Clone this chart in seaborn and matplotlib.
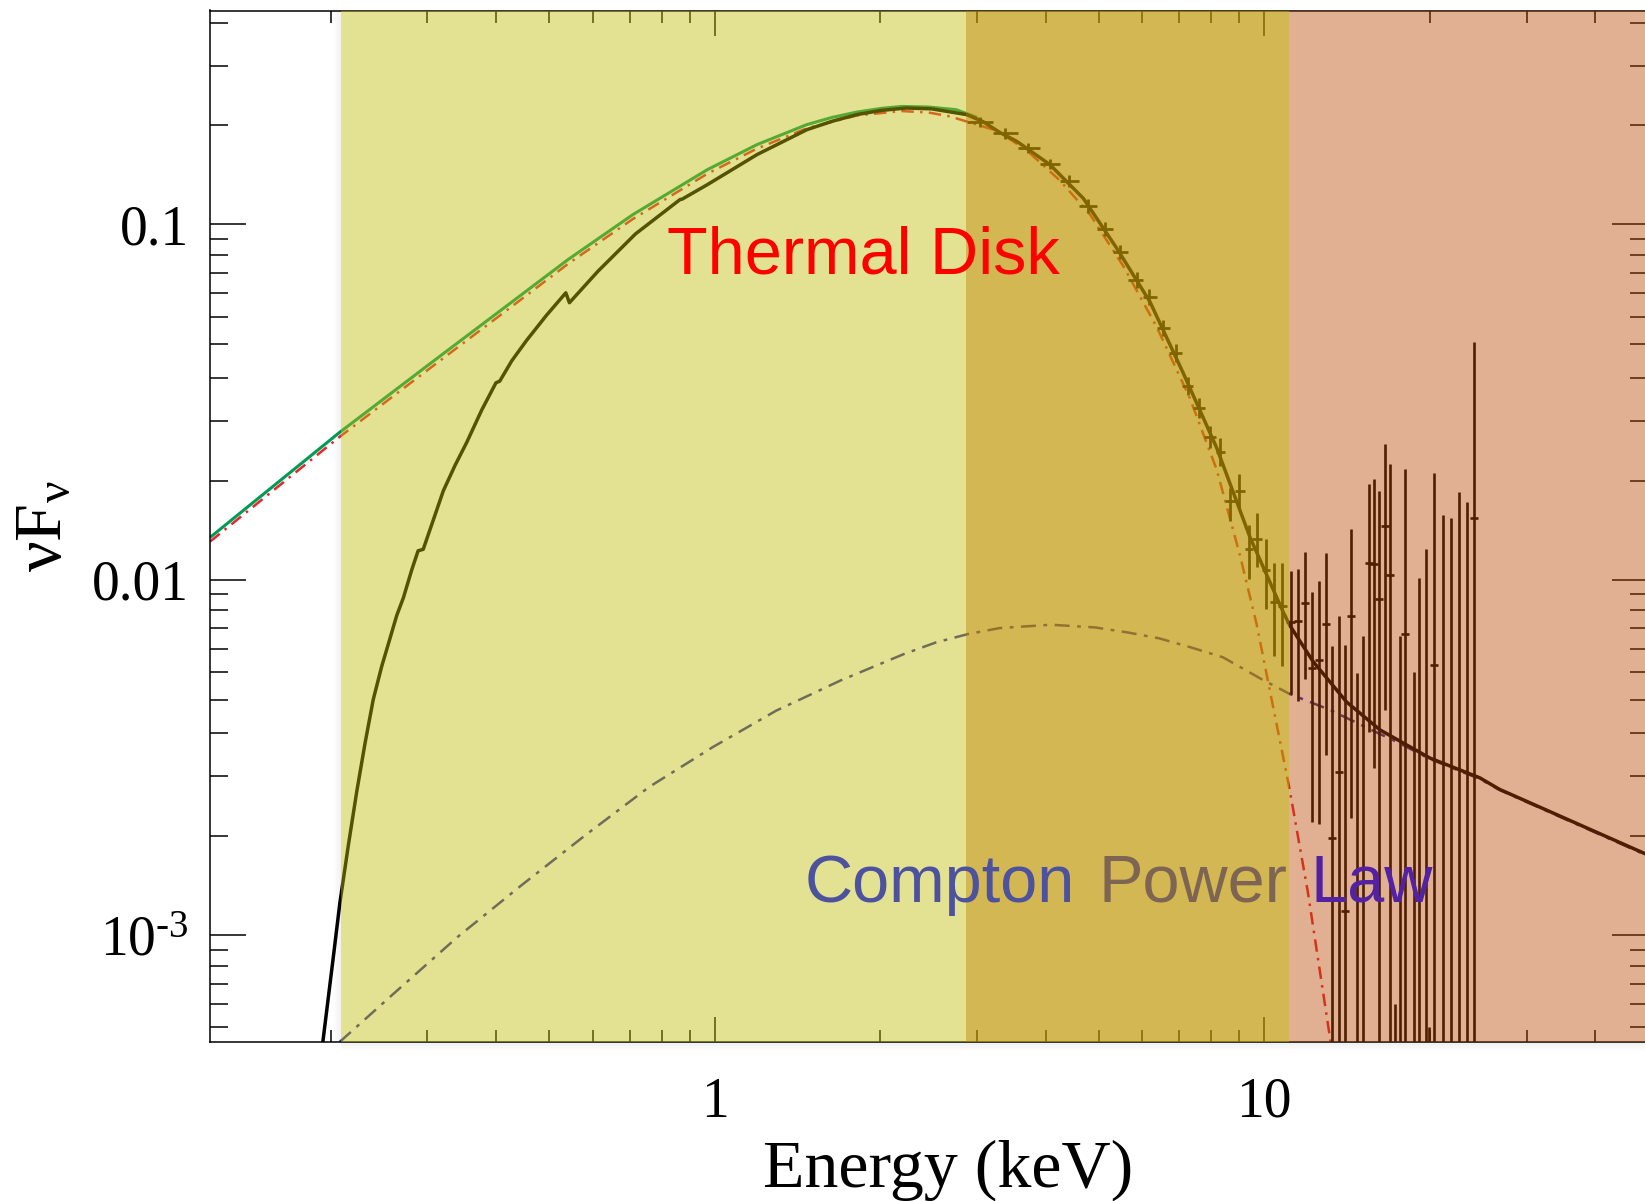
import matplotlib
matplotlib.use("Agg")
import numpy as np
import matplotlib.pyplot as plt
import seaborn as sns
from matplotlib.patches import Rectangle
from matplotlib.transforms import IdentityTransform
from matplotlib.ticker import FixedLocator, FixedFormatter, LogLocator, NullFormatter

# ---------------- spectral model curves (energy in keV, nuFnu) ----------------
total_energy = [0.180, 0.1935, 0.2022, 0.2078, 0.2154, 0.2231, 0.2310, 0.239, 0.2476, 0.2564,
                0.2637, 0.2712, 0.2809, 0.2884, 0.2947, 0.3206, 0.3368, 0.3536, 0.3764, 0.3997,
                0.4060, 0.4271, 0.4545, 0.4944, 0.5356, 0.5437, 0.6132, 0.717, 0.8644, 0.8720,
                0.970, 1.194, 1.471, 1.633, 1.812, 2.012, 2.231, 2.478, 2.873, 3.08, 3.30, 3.542,
                4.07, 4.683, 5.387, 6.194, 7.121, 8.191, 9.415, 10.82, 11.13, 12.27, 14.11,
                16.23, 20.0, 24.66, 26.8, 49.9]
total_flux = [0.00020, 0.00050, 0.000868, 0.00123, 0.001795, 0.00254, 0.003475, 0.00460, 0.00570,
              0.00684, 0.00793, 0.00890, 0.01067, 0.01206, 0.01218, 0.01780, 0.02100, 0.02435,
              0.03000, 0.03584, 0.03620, 0.04133, 0.04718, 0.0556, 0.0642, 0.0602, 0.0739, 0.0940,
              0.1175, 0.1178, 0.1295, 0.1573, 0.1848, 0.1950, 0.2037, 0.2094, 0.2126, 0.2115,
              0.2037, 0.1945, 0.1815, 0.1714, 0.1474, 0.1184, 0.0857, 0.0605, 0.0381, 0.02349,
              0.01317, 0.00811, 0.00743, 0.00588, 0.00453, 0.00378, 0.00315, 0.00277, 0.00257,
              0.00168]

unabs_energy = [0.1206, 0.2073, 0.302, 0.4212, 0.541, 0.7096, 0.970, 1.194, 1.471, 1.633, 1.812,
                2.012, 2.186, 2.45, 2.75, 3.0]
unabs_flux = [0.01315, 0.02594, 0.04037, 0.0595, 0.0797, 0.1066, 0.1427, 0.1678, 0.191, 0.2000,
              0.2071, 0.2122, 0.2148, 0.2140, 0.2103, 0.2000]

disk_energy = [0.1206, 0.2073, 0.302, 0.4212, 0.541, 0.7096, 0.970, 1.194, 1.471, 1.812, 2.186,
               2.45, 2.68, 3.258, 3.694, 4.246, 4.816, 5.538, 6.368, 7.32, 8.19, 9.03, 9.68, 10.2,
               11.1, 12.0, 13.2, 14.0]
disk_flux = [0.01280, 0.0252, 0.0392, 0.0578, 0.0775, 0.1036, 0.1390, 0.1635, 0.1865, 0.2025,
             0.2085, 0.2065, 0.2013, 0.1836, 0.1617, 0.1329, 0.1067, 0.0763, 0.0515, 0.0324,
             0.0204, 0.0117, 0.0075, 0.0050, 0.0026, 0.00132, 0.00050, 0.00028]

compton_energy = [0.2076, 0.2606, 0.3404, 0.4446, 0.5808, 0.7586, 0.991, 1.294, 1.48, 1.691,
                  1.933, 2.21, 2.525, 2.886, 3.297, 4.09, 4.924, 5.63, 6.435, 7.35, 8.406, 9.86,
                  11.12, 13.17, 16.23, 17.4, 20.0, 24.66, 26.8, 49.9]
compton_flux = [0.0005, 0.000685, 0.000988, 0.00138, 0.001908, 0.002608, 0.003379, 0.004283,
                0.00472, 0.0052, 0.00567, 0.00618, 0.00666, 0.00703, 0.00731, 0.00747, 0.00734,
                0.00711, 0.00684, 0.00645, 0.00605, 0.00526, 0.00477, 0.0043, 0.00368, 0.0035,
                0.00313, 0.00275, 0.00256, 0.00167]

# ---------------- binned spectra ----------------
soft_energy = [3.04, 3.373, 3.718, 4.07, 4.416, 4.77, 5.13, 5.46, 5.857, 6.175, 6.546, 6.897,
               7.27, 7.612, 7.962, 8.303, 8.66, 9.0, 9.38, 9.71, 10.06, 10.41, 10.78]
soft_e_lo = [2.873, 3.212, 3.566, 3.905, 4.246, 4.605, 4.953, 5.297, 5.654, 6.005, 6.368, 6.706,
             7.071, 7.424, 7.774, 8.154, 8.478, 8.842, 9.22, 9.483, 9.888, 10.24, 10.6]
soft_e_hi = [3.212, 3.566, 3.905, 4.246, 4.605, 4.953, 5.311, 5.654, 6.02, 6.368, 6.733, 7.071,
             7.424, 7.797, 8.154, 8.489, 8.842, 9.22, 9.546, 9.888, 10.24, 10.6, 10.98]
soft_flux = [0.1945, 0.1803, 0.1636, 0.1481, 0.1323, 0.1125, 0.0973, 0.0837, 0.0696, 0.0623,
             0.0512, 0.0436, 0.0352, 0.0304, 0.0252, 0.0229, 0.01667, 0.01779, 0.0122, 0.01306,
             0.01065, 0.00863, 0.00845]
soft_flux_lo = [0.1883, 0.1745, 0.1584, 0.1434, 0.1273, 0.1075, 0.0930, 0.0800, 0.0661, 0.0592,
                0.0486, 0.0411, 0.0332, 0.0285, 0.0235, 0.02091, 0.01465, 0.01596, 0.01005,
                0.01083, 0.00827, 0.00611, 0.00573]
soft_flux_hi = [0.2009, 0.1862, 0.1690, 0.1530, 0.1375, 0.1177, 0.1018, 0.0876, 0.0733, 0.0656,
                0.0539, 0.0462, 0.0373, 0.0324, 0.0271, 0.0251, 0.01817, 0.0199, 0.01428, 0.0154,
                0.01306, 0.01114, 0.01111]

hard_energy = [11.16, 11.50, 11.86, 12.23, 12.59, 12.94, 13.29, 13.67, 14.02, 14.38, 14.76, 15.10,
               15.48, 15.85, 16.19, 16.57, 16.93, 17.29, 17.65, 18.03, 18.74, 19.14, 19.65, 19.93,
               20.38, 21.13, 21.85, 22.63, 23.34, 24.10]
hard_e_lo = [10.97, 11.30, 11.66, 12.02, 12.38, 12.72, 13.06, 13.44, 13.78, 14.14, 14.51, 14.84,
             15.22, 15.58, 15.91, 16.29, 16.64, 17.00, 17.35, 17.72, 18.42, 18.81, 19.32, 19.59,
             20.03, 20.77, 21.48, 22.25, 22.94, 23.69]
hard_e_hi = [11.35, 11.70, 12.06, 12.44, 12.80, 13.16, 13.52, 13.90, 14.26, 14.62, 15.01, 15.36,
             15.74, 16.12, 16.47, 16.85, 17.22, 17.58, 17.95, 18.34, 19.06, 19.47, 19.98, 20.27,
             20.73, 21.49, 22.22, 23.01, 23.74, 24.51]
hard_flux = [0.00762, 0.00767, 0.00862, 0.00566, 0.00595, 0.00750, 0.00187, 0.00288, 0.00117,
             0.00793, 0.0003, 0.0003, 0.01112, 0.01106, 0.0088, 0.01415, 0.01033, 0.0001, 0.0003,
             0.00702, 0.0003, 0.0003, 0.0003, 0.0001, 0.00577, 0.0003, 0.0003, 0.0003, 0.0003,
             0.01488]
hard_flux_lo = [0.00478, 0.00456, 0.00526, 0.00208, 0.00205, 0.00321, 1e-5, 1e-5, 1e-5, 0.00213,
                1e-5, 1e-5, 0.00373, 0.00295, 1e-5, 0.0043, 1e-5, 1e-5, 1e-5, 1e-5, 1e-5, 1e-5,
                1e-5, 1e-5, 1e-5, 1e-5, 1e-5, 1e-5, 1e-5, 1e-5]
hard_flux_hi = [0.01055, 0.01074, 0.01196, 0.00926, 0.00994, 0.01187, 0.00652, 0.00793, 0.00657,
                0.01386, 0.00547, 0.00696, 0.01855, 0.01919, 0.01775, 0.02413, 0.02113, 0.00064,
                0.00693, 0.0205, 0.00551, 0.0101, 0.01224, 0.00055, 0.01996, 0.0152, 0.01488,
                0.01762, 0.01655, 0.0466]

# energy bands highlighted over the spectrum
band_edges = [0.209, 2.865, 11.09, 60.0]
band_colors = [(193 / 255, 190 / 255, 9 / 255), (190 / 255, 149 / 255, 0.0), (187 / 255, 70 / 255, 0.0)]
band_alpha = [0.44, 0.68, 0.427]

# ---------------- styling ----------------
sns.set_theme(style="ticks")
plt.rcParams["font.family"] = ["Liberation Serif", "DejaVu Serif"]
plt.rcParams["mathtext.fontset"] = "custom"
plt.rcParams["mathtext.rm"] = "Liberation Serif"
plt.rcParams["mathtext.it"] = "Liberation Serif:italic"

W, H = 1645, 1201
fig = plt.figure(figsize=(W / 100, H / 100), dpi=100, facecolor="white")
ax_left, ax_right, ax_top, ax_bottom = 210, 1648, 10.5, 1042
ax = fig.add_axes([ax_left / W, 1 - ax_bottom / H, (ax_right - ax_left) / W, (ax_bottom - ax_top) / H])
ax.set_facecolor("white")
ax.set_xscale("log")
ax.set_yscale("log")


def draw_line(x, y, color, lw, dashes=None, z=2):
    sns.lineplot(x=x, y=y, ax=ax, color=color, lw=lw, sort=False, estimator=None, zorder=z)
    line = ax.lines[-1]
    if dashes is not None:
        line.set_linestyle((0, dashes))
    line.set_solid_capstyle("butt")
    line.set_solid_joinstyle("round")
    return line


draw_line(compton_energy, compton_flux, (50 / 255, 45 / 255, 150 / 255), 1.8, (6, 3, 1.5, 3), z=2.0)
draw_line(disk_energy, disk_flux, (230 / 255, 38 / 255, 45 / 255), 1.8, (5, 2.5, 1, 2.5), z=2.2)
draw_line(unabs_energy, unabs_flux, (0.0, 155 / 255, 85 / 255), 2.2, None, z=2.1)
draw_line(total_energy, total_flux, "black", 2.5, None, z=3.0)

soft_e = np.array(soft_energy)
soft_f = np.array(soft_flux)
ax.errorbar(soft_e, soft_f,
            xerr=[soft_e - np.array(soft_e_lo), np.array(soft_e_hi) - soft_e],
            yerr=[soft_f - np.array(soft_flux_lo), np.array(soft_flux_hi) - soft_f],
            fmt="none", ecolor="black", elinewidth=2.0, capsize=0, zorder=3.5)
hard_e = np.array(hard_energy)
hard_f = np.array(hard_flux)
ax.errorbar(hard_e, hard_f,
            xerr=[hard_e - np.array(hard_e_lo), np.array(hard_e_hi) - hard_e],
            yerr=[hard_f - np.array(hard_flux_lo), np.array(hard_flux_hi) - hard_f],
            fmt="none", ecolor="black", elinewidth=1.9, capsize=0, zorder=3.5)

for lo, hi, c, a in zip(band_edges[:-1], band_edges[1:], band_colors, band_alpha):
    ax.axvspan(lo, hi, ymin=0, ymax=1, color=c, alpha=a, lw=0, zorder=5)

ax.set_xlim(0.1206, 49.9)
ax.set_ylim(5e-4, 0.4)

# soft drop shadow along the left edge and underneath the shaded bands
band_px = ax_left + (np.log10(band_edges[0]) - np.log10(0.1206)) / (np.log10(49.9) - np.log10(0.1206)) * (ax_right - ax_left)
for i in range(6):
    a = 0.05 * (1 - i / 6)
    ax.add_patch(Rectangle((band_px - 1.3 * (i + 1), H - ax_bottom), 1.3, ax_bottom - ax_top,
                           transform=IdentityTransform(), facecolor="black", alpha=a, lw=0, zorder=4.9))
    fig.add_artist(Rectangle((band_px, H - ax_bottom - 1.4 * (i + 1)), W - band_px, 1.4,
                             transform=IdentityTransform(), facecolor="black", alpha=a * 1.2, lw=0))

# ---------------- axes ----------------
for s in ax.spines.values():
    s.set_color("black")
    s.set_linewidth(1.1)

ax.xaxis.set_major_locator(FixedLocator([1, 10]))
ax.xaxis.set_major_formatter(FixedFormatter(["1", "10"]))
ax.xaxis.set_minor_locator(LogLocator(base=10, subs=np.arange(2, 10)))
ax.xaxis.set_minor_formatter(NullFormatter())

ax.yaxis.set_major_locator(FixedLocator([1e-3, 1e-2, 1e-1]))
ax.yaxis.set_major_formatter(FixedFormatter([r"$\mathregular{10^{\text{-}3}}$", "0.01", "0.1"]))
y_minor = []
for dec in (1e-4, 1e-3, 1e-2, 1e-1):
    for k in range(1, 10):
        y_minor.append(dec + k * 0.9 * dec)
ax.yaxis.set_minor_locator(FixedLocator(y_minor))
ax.yaxis.set_minor_formatter(NullFormatter())

ax.tick_params(axis="x", which="major", direction="in", length=18, width=1.1, top=True,
               bottom=True, pad=25, labelsize=40, colors="black")
ax.tick_params(axis="x", which="minor", direction="in", length=8.6, width=1.1, top=True,
               bottom=True, colors="black")
ax.tick_params(axis="y", which="major", direction="in", length=26, width=1.1, left=True,
               right=True, pad=15, labelsize=40, colors="black")
ax.tick_params(axis="y", which="minor", direction="in", length=13, width=1.1, left=True,
               right=True, colors="black")

ax.set_xlabel("Energy (keV)", fontsize=49, color="black")
ax.xaxis.set_label_coords(0.513, -0.094)
ax.set_ylabel(r"$\mathregular{\nu F_{\nu}}$", fontsize=49, color="black")
ax.yaxis.set_label_coords(-0.094, 0.5)

# ---------------- component labels ----------------
def ax_xy(px, py):
    return (px - ax_left) / (ax_right - ax_left), (ax_bottom - py) / (ax_bottom - ax_top)

sans = ["Liberation Sans", "DejaVu Sans"]
x0, y0 = ax_xy(667, 273.3)
ax.text(x0, y0, "Thermal Disk", transform=ax.transAxes, family=sans, fontsize=48,
        color="#FF0000", ha="left", va="baseline", zorder=10)
for word, px, col in (("Compton", 805, "#4C529E"), ("Power", 1098.5, "#7E6553"), ("Law", 1310, "#5222A2")):
    xw, yw = ax_xy(px, 901.7)
    ax.text(xw, yw, word, transform=ax.transAxes, family=sans, fontsize=48,
            color=col, ha="left", va="baseline", zorder=10)

fig.savefig("out.png", dpi=100, facecolor="white")
